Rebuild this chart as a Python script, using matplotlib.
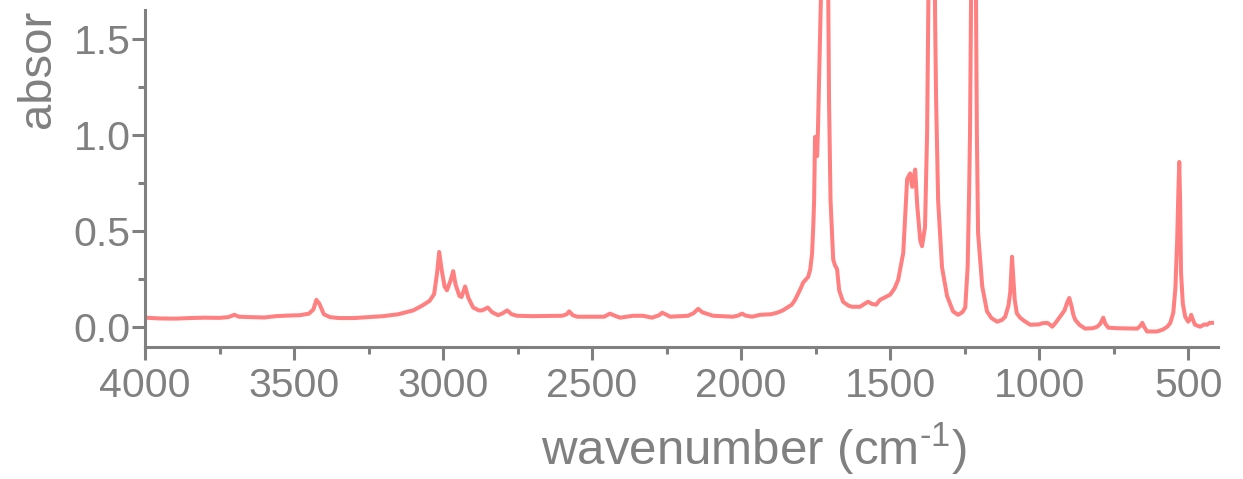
import matplotlib
matplotlib.use('Agg')
import matplotlib.pyplot as plt
from matplotlib.ticker import MultipleLocator
from matplotlib.transforms import Bbox, TransformedBbox

# IR spectrum
wavenumber = [
    4000, 3950, 3900, 3850, 3800, 3750, 3720, 3700, 3685, 3650, 3600, 3560,
    3520, 3480, 3450, 3435, 3425, 3415, 3400, 3380, 3350, 3300, 3250, 3200,
    3150, 3100, 3070, 3045, 3030, 3020, 3013, 3005, 2995, 2987, 2975, 2966,
    2958, 2945, 2938, 2926, 2915, 2899, 2880, 2869, 2850, 2835, 2815, 2800,
    2785, 2770, 2752, 2700, 2650, 2600, 2585, 2577, 2565, 2550, 2500, 2460,
    2440, 2420, 2406, 2362, 2329, 2299, 2275, 2265, 2250, 2238, 2178, 2160,
    2144, 2130, 2110, 2094, 2027, 2010, 1997, 1985, 1963, 1936, 1900, 1879,
    1860, 1846, 1830, 1819, 1800, 1792, 1775, 1768, 1762, 1758, 1755, 1752,
    1748, 1745, 1742, 1737, 1731, 1726, 1720, 1713, 1708, 1705, 1700, 1691,
    1685, 1678, 1671, 1658, 1640, 1628, 1601, 1585, 1574, 1560, 1547, 1534,
    1500, 1485, 1473, 1456, 1443, 1433, 1426, 1416, 1409, 1399, 1393, 1383,
    1376, 1371, 1365, 1360, 1354, 1349, 1346, 1339, 1326, 1309, 1289, 1272,
    1258, 1248, 1240, 1235, 1232, 1226, 1220, 1214, 1209, 1205, 1191, 1175,
    1160, 1141, 1125, 1114, 1103, 1097, 1091, 1087, 1082, 1075, 1064, 1050,
    1030, 1000, 990, 973, 965, 956, 945, 930, 915, 905, 899, 892, 885, 879,
    865, 846, 820, 805, 795, 785, 778, 768, 740, 700, 671, 660, 654, 648,
    638, 604, 585, 570, 560, 550, 543, 537, 533, 530, 527, 524, 518, 510,
    500, 494, 490, 484, 477, 460, 445, 437, 428, 420,
]
absorbance = [
    0.047, 0.043, 0.042, 0.045, 0.047, 0.046, 0.050, 0.062, 0.052, 0.050, 0.048, 0.055,
    0.058, 0.060, 0.068, 0.090, 0.140, 0.120, 0.065, 0.050, 0.045, 0.045, 0.050, 0.055,
    0.065, 0.085, 0.110, 0.135, 0.170, 0.280, 0.390, 0.300, 0.210, 0.190, 0.240, 0.290,
    0.220, 0.160, 0.155, 0.210, 0.150, 0.100, 0.085, 0.085, 0.100, 0.075, 0.060, 0.070,
    0.085, 0.065, 0.057, 0.055, 0.056, 0.057, 0.065, 0.080, 0.060, 0.052, 0.052, 0.052,
    0.068, 0.055, 0.047, 0.057, 0.057, 0.047, 0.060, 0.073, 0.062, 0.052, 0.057, 0.070,
    0.093, 0.075, 0.065, 0.057, 0.052, 0.058, 0.068, 0.058, 0.052, 0.062, 0.065, 0.073,
    0.085, 0.099, 0.115, 0.140, 0.200, 0.230, 0.260, 0.300, 0.380, 0.520, 0.660, 0.990,
    0.990, 0.890, 1.040, 1.400, 1.800, 3.000, 3.200, 2.800, 1.800, 1.180, 0.660, 0.350,
    0.320, 0.300, 0.190, 0.130, 0.110, 0.104, 0.104, 0.120, 0.130, 0.118, 0.115, 0.140,
    0.167, 0.200, 0.245, 0.385, 0.770, 0.800, 0.730, 0.820, 0.630, 0.450, 0.420, 0.520,
    1.010, 1.800, 2.600, 2.800, 2.400, 1.600, 1.200, 0.660, 0.310, 0.160, 0.080, 0.062,
    0.075, 0.100, 0.310, 0.700, 1.010, 2.200, 2.600, 2.200, 1.010, 0.490, 0.210, 0.080,
    0.045, 0.026, 0.035, 0.052, 0.110, 0.180, 0.365, 0.260, 0.140, 0.070, 0.047, 0.030,
    0.010, 0.012, 0.018, 0.020, 0.012, 0.000, 0.020, 0.052, 0.085, 0.130, 0.150, 0.110, 0.060, 0.036,
    0.010, -0.010, -0.008, 0.000, 0.015, 0.047, 0.015, -0.005, -0.008, -0.009, -0.010, 0.005, 0.020, 0.000,
    -0.025, -0.025, -0.015, 0.000, 0.020, 0.073, 0.200, 0.450, 0.700, 0.860, 0.650, 0.280, 0.120, 0.052,
    0.026, 0.040, 0.062, 0.035, 0.010, 0.000, 0.012, 0.010, 0.020, 0.020,
]
xticks = [4000, 3500, 3000, 2500, 2000, 1500, 1000, 500]
yticks = [0.0, 0.5, 1.0, 1.5]

GREY = '#808080'
LINE = '#ff8080'

plt.rcParams['font.family'] = ['Liberation Sans', 'DejaVu Sans']
plt.rcParams['mathtext.fontset'] = 'custom'
plt.rcParams['mathtext.rm'] = 'Liberation Sans'

fig = plt.figure(figsize=(12.43, 4.79), dpi=100)
ax = fig.add_axes([145 / 1243, 1 - 347 / 479, 1073 / 1243, 347 / 479])

ax.plot(wavenumber, absorbance, color=LINE, lw=2.9, solid_joinstyle='round')

ax.set_xlim(4000, 400)
ax.set_ylim(-0.106, 1.705)
ax.set_xticks(xticks)
ax.set_yticks(yticks)
ax.xaxis.set_minor_locator(MultipleLocator(250))
ax.yaxis.set_minor_locator(MultipleLocator(0.25))

for side in ('top', 'right'):
    ax.spines[side].set_visible(False)
for side in ('left', 'bottom'):
    ax.spines[side].set_color(GREY)
    ax.spines[side].set_linewidth(2.2)
ax.spines['left'].set_bounds(-0.106, 1.653)

ax.tick_params(which='major', direction='out', length=9.5, width=2.2,
               color=GREY, labelcolor=GREY, labelsize=29.5)
ax.tick_params(which='minor', direction='out', length=5, width=2.2, color=GREY)
ax.tick_params(axis='x', pad=5)
ax.tick_params(axis='y', pad=1)

ax.set_xlabel('wavenumber (cm$^{\\mathregular{\u2010}1}$)', fontsize=35.5, color=GREY)
ax.xaxis.set_label_coords(0.567, -0.21)

ylab = ax.set_ylabel('absorbance', fontsize=34, color=GREY, rotation_mode='default',
                     ha='center', va='bottom')
ax.yaxis.set_label_coords(-0.100, 0.631)
# the original is cut off just above the top of the y axis
ylab.set_clip_box(TransformedBbox(Bbox([[0, 0], [1, 1 - 10 / 479]]), fig.transFigure))
ylab.set_clip_on(True)

fig.savefig('out.png', dpi=100)
